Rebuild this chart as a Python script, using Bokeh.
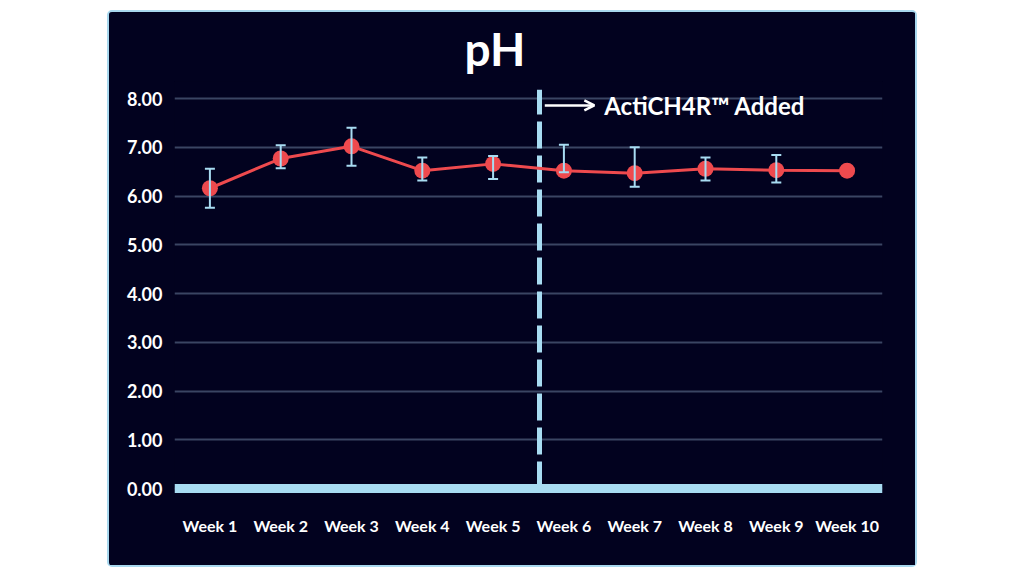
from bokeh.plotting import figure
from bokeh.models import (ColumnDataSource, FixedTicker, Whisker, TeeHead, Span,
                          Label, Arrow, OpenHead, Range1d, Spacer, Title)
from bokeh.layouts import row, column
from bokeh.embed import file_html
from bokeh.resources import INLINE

# ---- data ----
weeks = ["Week 1", "Week 2", "Week 3", "Week 4", "Week 5",
         "Week 6", "Week 7", "Week 8", "Week 9", "Week 10"]
ph_mean = [6.16, 6.77, 7.02, 6.52, 6.66, 6.52, 6.47, 6.56, 6.53, 6.52]
ph_lower = [5.76, 6.57, 6.62, 6.32, 6.35, 6.49, 6.19, 6.32, 6.28, None]
ph_upper = [6.56, 7.04, 7.40, 6.79, 6.82, 7.05, 7.00, 6.79, 6.84, None]
y_ticks = [0, 1, 2, 3, 4, 5, 6, 7, 8]
added_at = 5.655          # x position of "ActiCH4R added" marker
added_label = "ActiCH4R\u2122 Added"

BG = "#02021f"
LIGHT = "#a8dcf2"
RED = "#ee4a4e"
GRID = "#3a4563"
FONT = "Lato"

x = list(range(1, len(weeks) + 1))
src = ColumnDataSource(dict(x=x, y=ph_mean))
ex = [xi for xi, lo in zip(x, ph_lower) if lo is not None]
err = ColumnDataSource(dict(
    x=ex,
    lower=[lo for lo in ph_lower if lo is not None],
    upper=[up for up in ph_upper if up is not None]))

p = figure(width=810, height=557, output_backend="svg", toolbar_location=None,
           x_range=Range1d(0.5, 10.5), y_range=Range1d(-0.164, 8.35),
           min_border_left=65, min_border_right=37,
           min_border_top=69, min_border_bottom=73)
p.background_fill_color = BG
p.border_fill_color = BG
p.outline_line_color = None
p.styles = {"border": "2px solid #a8d8ee", "border-radius": "5px",
            "background-color": BG}

t = Title(text="pH", text_color="white", text_font=FONT, text_font_size="46px",
          text_font_style="bold", align="left", offset=290, standoff=12)
p.add_layout(t, "above")

# grid
p.xgrid.grid_line_color = None
p.ygrid.grid_line_color = GRID
p.ygrid.grid_line_width = 2
p.yaxis.ticker = FixedTicker(ticks=y_ticks)
p.yaxis.major_label_overrides = {v: f"{v:.2f}" for v in y_ticks}
p.xaxis.ticker = FixedTicker(ticks=x)
p.xaxis.major_label_overrides = {xi: w for xi, w in zip(x, weeks)}

for ax in (p.xaxis, p.yaxis):
    ax.axis_line_color = None
    ax.major_tick_line_color = None
    ax.minor_tick_line_color = None
    ax.major_tick_out = 0
    ax.major_tick_in = 0
    ax.major_label_text_color = "white"
    ax.major_label_text_font = FONT
    ax.major_label_text_font_style = "bold"
p.xaxis.major_label_text_font_size = "16px"
p.xaxis.major_label_standoff = 19
p.yaxis.major_label_text_font_size = "18px"
p.yaxis.major_label_standoff = 12

# baseline
p.add_layout(Span(location=0, dimension="width", line_color=LIGHT, line_width=9))

# dashed vertical marker
p.segment(x0=[added_at], y0=[0], x1=[added_at], y1=[8.18],
          line_color=LIGHT, line_width=5, line_dash="27 7")

# data line and points
p.line("x", "y", source=src, line_color=RED, line_width=3)
p.scatter("x", "y", source=src, size=16, fill_color=RED, line_color=None)

# error bars
w = Whisker(base="x", lower="lower", upper="upper", source=err,
            line_color=LIGHT, line_width=2, level="overlay",
            upper_head=TeeHead(size=10, line_color=LIGHT, line_width=2),
            lower_head=TeeHead(size=10, line_color=LIGHT, line_width=2))
p.add_layout(w)

# annotation
p.add_layout(Arrow(x_start=5.73, y_start=7.86, x_end=6.43, y_end=7.86,
                   line_color="white", line_width=2.5,
                   end=OpenHead(size=10, line_color="white", line_width=2.5)))
p.add_layout(Label(x=6.57, y=7.86, text=added_label, text_color="white",
                   text_font=FONT, text_font_size="24px", text_font_style="bold",
                   text_baseline="middle"))

layout = column(Spacer(height=10), row(Spacer(width=107), p))
open("out.html", "w").write(file_html(layout, INLINE))
